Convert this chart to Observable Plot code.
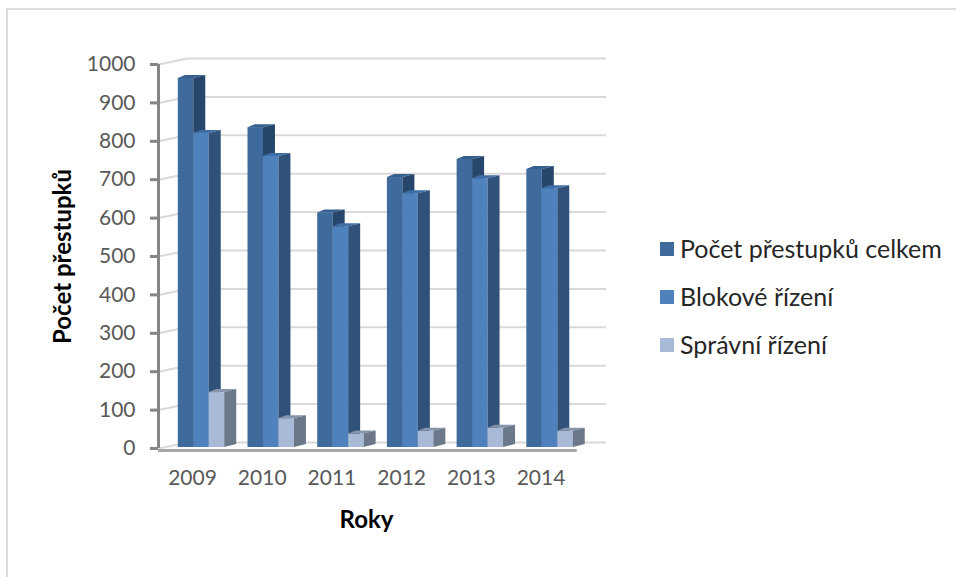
<!DOCTYPE html>
<html lang="cs">
<head>
<meta charset="utf-8">
<script src="https://cdn.jsdelivr.net/npm/d3@7"></script>
<script src="https://cdn.jsdelivr.net/npm/@observablehq/plot@0.6"></script>
<style>
html,body{margin:0;padding:0;background:#fff;overflow:hidden}
#wrap{position:relative;width:956px;height:577px;font-family:Lato,sans-serif}
#frame{position:absolute;left:6px;top:8px;right:-4px;bottom:-4px;border:2px solid #dcdcdc;pointer-events:none}
#plot{position:absolute;left:0;top:0}
#legend{position:absolute;left:660px;top:224px;color:#262626;font-size:25px}
.row{position:absolute;left:0;white-space:nowrap;height:48px;line-height:48px}
.row i{position:absolute;left:0;top:18px;width:14px;height:14px}
.row span{position:absolute;left:20px}
</style>
</head>
<body>
<div id="wrap"><div id="frame"></div><div id="plot"></div><div id="legend"></div></div>
<script>
const years = [2009, 2010, 2011, 2012, 2013, 2014];
const seriesNames = ["Počet přestupků celkem", "Blokové řízení", "Správní řízení"];
const celkem = [961, 833, 611, 703, 750, 724];
const blokove = [818, 758, 575, 661, 700, 674];
const spravni = [143, 75, 35, 42, 50, 42];
const yTicks = [0,100,200,300,400,500,600,700,800,900,1000];
const frontColors = ["#3e6a9c", "#4f81bd", "#a9bad9"];
const sideColors = ["#27466b", "#30527a", "#6b7889"];
const topColors = ["#35608f", "#3f6ea6", "#8594aa"];

const barW = 0.222;          // bar width, in years
const depthX = 12, depthY = -3;   // bar depth, in pixels
const wallX = 29, wallY = -6;     // back wall offset, in pixels
const xMin = 2008.383, xMax = 2014.81;

const rows = [];
[celkem, blokove, spravni].forEach((vals, s) => {
  years.forEach((yr, i) => rows.push({year: yr, s, value: vals[i]}));
});
rows.sort((a, b) => a.year - b.year || a.s - b.s);

// extrude every front rectangle with a side and a top face
function extrude(index, scales, values, dims, ctx, next) {
  const g = next(index, scales, values, dims, ctx);
  const NS = "http://www.w3.org/2000/svg";
  const rects = Array.from(g.querySelectorAll("rect"));
  rects.forEach((r, k) => {
    const d = rows[index[k]];
    const x = +r.getAttribute("x"), y = +r.getAttribute("y"),
          w = +r.getAttribute("width"), h = +r.getAttribute("height");
    const side = document.createElementNS(NS, "polygon");
    side.setAttribute("points", `${x+w},${y} ${x+w+depthX},${y+depthY} ${x+w+depthX},${y+h+depthY} ${x+w},${y+h}`);
    side.setAttribute("fill", sideColors[d.s]);
    const top = document.createElementNS(NS, "polygon");
    top.setAttribute("points", `${x},${y} ${x+depthX*0.6},${y+depthY} ${x+w+depthX},${y+depthY} ${x+w},${y}`);
    top.setAttribute("fill", topColors[d.s]);
    r.parentNode.insertBefore(side, r.nextSibling);
    r.parentNode.insertBefore(top, side);
  });
  return g;
}

const plot = Plot.plot({
  width: 956, height: 577,
  marginLeft: 158, marginRight: 350, marginTop: 64, marginBottom: 129,
  style: {fontFamily: "Lato, sans-serif", background: "transparent", overflow: "visible"},
  x: {domain: [xMin, xMax], axis: null},
  y: {domain: [0, 1000], axis: null},
  marks: [
    // back wall gridlines
    Plot.ruleY(yTicks, {y: d => d, dy: wallY, dx: wallX, x1: xMin, x2: xMax - wallX/69.7, stroke: "#d9d9d9", strokeWidth: 2}),
    // side wall slants
    Plot.link(yTicks, {
      x1: () => xMin, x2: () => xMin + wallX/69.7,
      y1: d => d, y2: d => d + (-wallY)/0.384,
      stroke: "#d9d9d9", strokeWidth: 2
    }),
    // floor
    Plot.ruleY([0], {x1: xMin, x2: 2014.39, dy: 2, stroke: "#a6a6a6", strokeWidth: 3}),
    // front axis
    Plot.ruleX([xMin], {y1: 0, y2: 1000, stroke: "#868686", strokeWidth: 3}),
    Plot.axisY({ticks: yTicks, tickSize: 8, tickPadding: 15, stroke: "#868686", strokeWidth: 3,
      fill: "#595959", fontSize: 21, tickFormat: d => String(d), label: null, anchor: "left"}),
    // bars
    Plot.rect(rows, {
      x1: d => d.year + (d.s - 1.5) * barW,
      x2: d => d.year + (d.s - 0.5) * barW,
      y1: () => 0,
      y2: d => d.value,
      dy: -1,
      fill: d => frontColors[d.s],
      render: extrude
    }),
    // year labels
    Plot.axisX({ticks: years, tickSize: 0, tickPadding: 22, dx: -9, fill: "#595959", fontSize: 21,
      tickFormat: d => String(d), label: null, anchor: "bottom"}),
    // titles
    Plot.text(["Počet přestupků"], {frameAnchor: "left", textAnchor: "middle", dx: -95, rotate: -90, fontSize: 24, fontWeight: "bold", fill: "#000"}),
    Plot.text(["Roky"], {frameAnchor: "bottom", dx: -16, dy: 79, fontSize: 24, fontWeight: "bold", fill: "#000"})
  ]
});
document.getElementById("plot").appendChild(plot);

const legend = document.getElementById("legend");
seriesNames.forEach((name, i) => {
  const r = document.createElement("div");
  r.className = "row";
  r.style.top = i * 48 + "px";
  r.innerHTML = `<i style="background:${frontColors[i]}"></i><span>${name}</span>`;
  legend.appendChild(r);
});
</script>
</body>
</html>
